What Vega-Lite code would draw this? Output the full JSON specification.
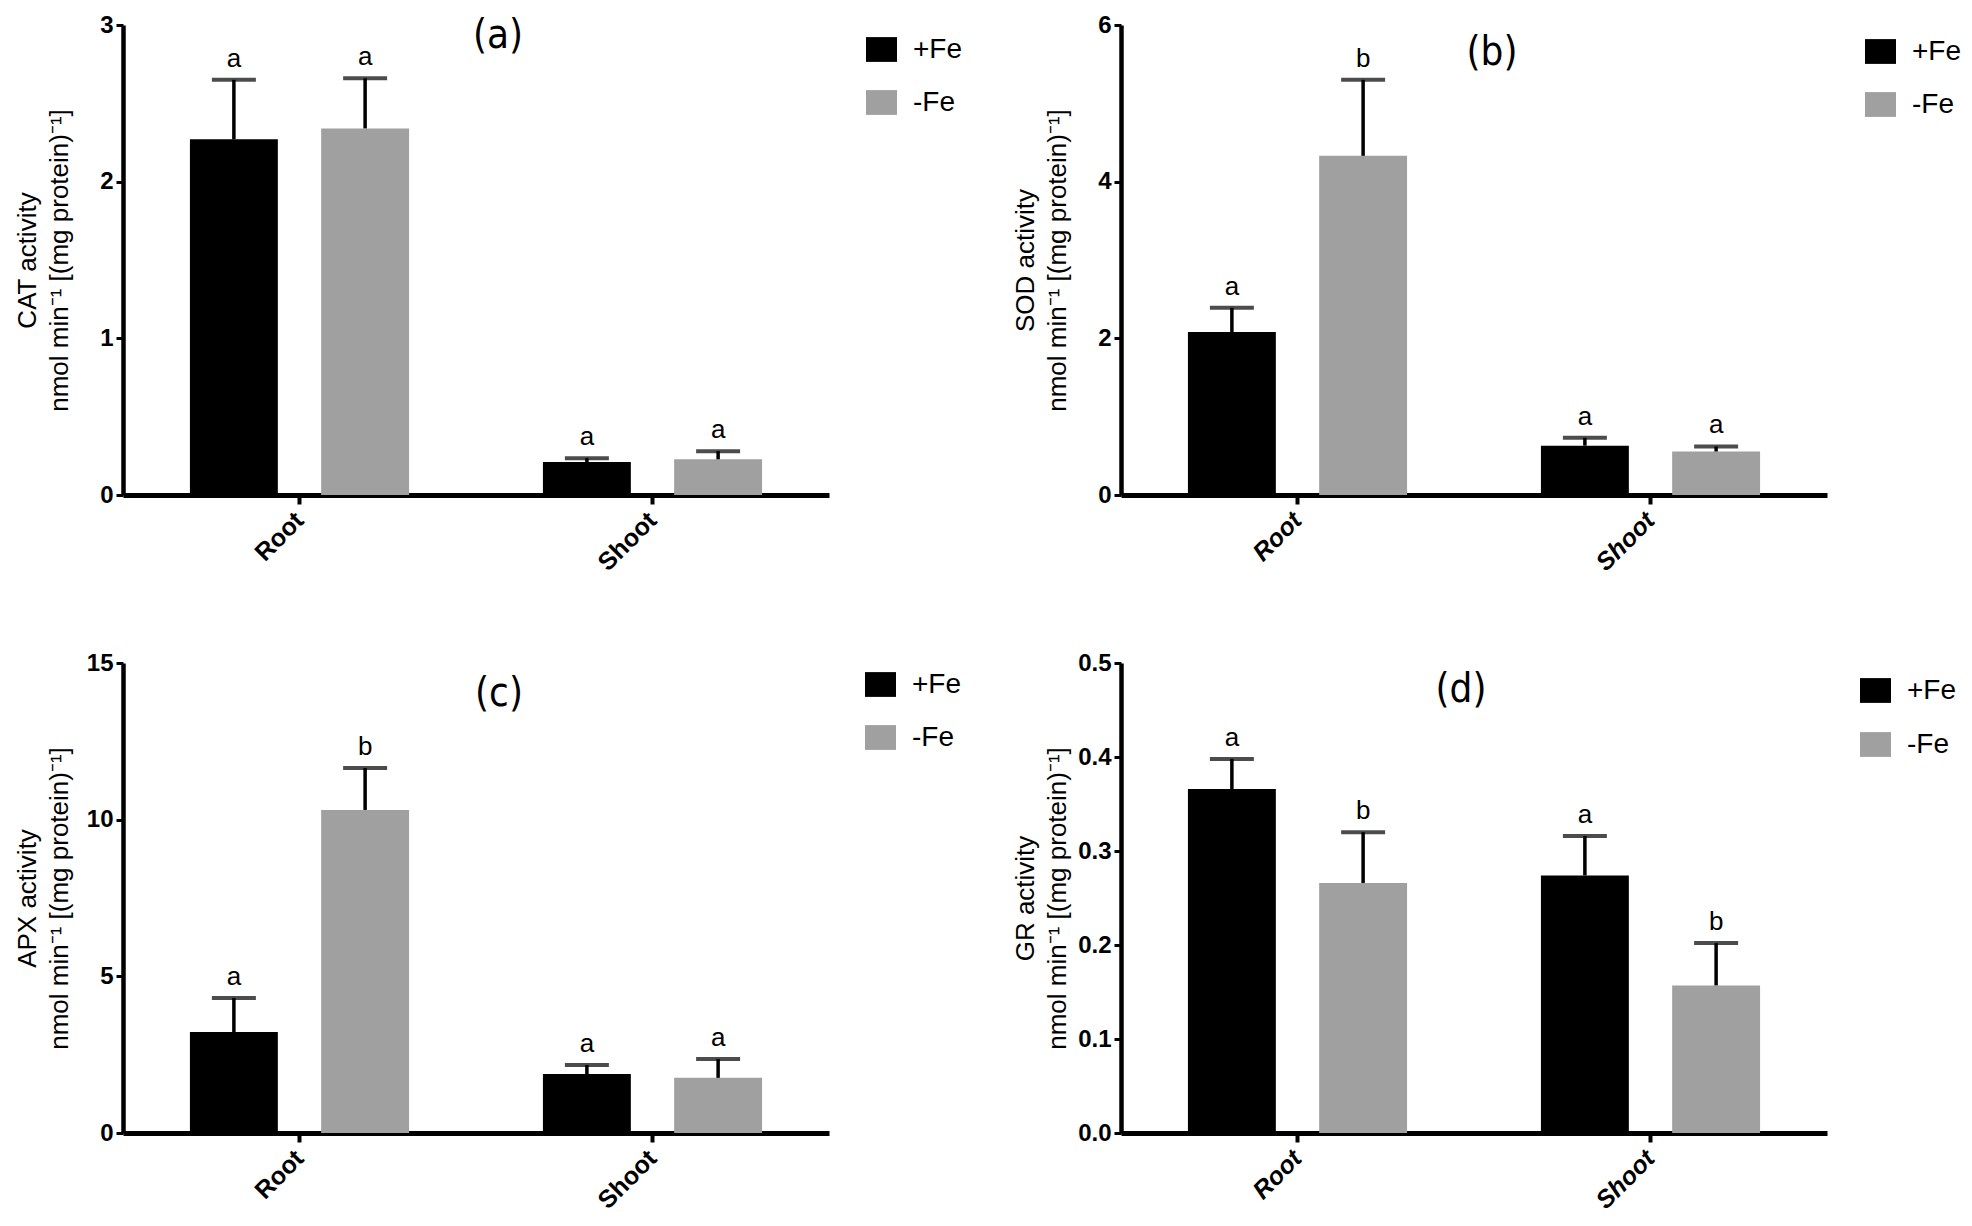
{
  "$schema": "https://vega.github.io/schema/vega-lite/v6.json",
  "background": "white",
  "padding": {"left": 13, "top": 13, "right": 10, "bottom": 10},
  "bounds": "flush",
  "columns": 2,
  "spacing": {"row": 168, "column": 292},
  "data": {"values": [
    {"panel": "a", "tissue": "Root", "trt": "+Fe", "mean": 2.27, "upper": 2.65, "letter": "a"},
    {"panel": "a", "tissue": "Root", "trt": "-Fe", "mean": 2.34, "upper": 2.66, "letter": "a"},
    {"panel": "a", "tissue": "Shoot", "trt": "+Fe", "mean": 0.21, "upper": 0.235, "letter": "a"},
    {"panel": "a", "tissue": "Shoot", "trt": "-Fe", "mean": 0.228, "upper": 0.28, "letter": "a"},
    {"panel": "b", "tissue": "Root", "trt": "+Fe", "mean": 2.08, "upper": 2.39, "letter": "a"},
    {"panel": "b", "tissue": "Root", "trt": "-Fe", "mean": 4.33, "upper": 5.3, "letter": "b"},
    {"panel": "b", "tissue": "Shoot", "trt": "+Fe", "mean": 0.63, "upper": 0.73, "letter": "a"},
    {"panel": "b", "tissue": "Shoot", "trt": "-Fe", "mean": 0.555, "upper": 0.62, "letter": "a"},
    {"panel": "c", "tissue": "Root", "trt": "+Fe", "mean": 3.22, "upper": 4.31, "letter": "a"},
    {"panel": "c", "tissue": "Root", "trt": "-Fe", "mean": 10.31, "upper": 11.65, "letter": "b"},
    {"panel": "c", "tissue": "Shoot", "trt": "+Fe", "mean": 1.88, "upper": 2.17, "letter": "a"},
    {"panel": "c", "tissue": "Shoot", "trt": "-Fe", "mean": 1.76, "upper": 2.36, "letter": "a"},
    {"panel": "d", "tissue": "Root", "trt": "+Fe", "mean": 0.366, "upper": 0.398, "letter": "a"},
    {"panel": "d", "tissue": "Root", "trt": "-Fe", "mean": 0.266, "upper": 0.32, "letter": "b"},
    {"panel": "d", "tissue": "Shoot", "trt": "+Fe", "mean": 0.274, "upper": 0.316, "letter": "a"},
    {"panel": "d", "tissue": "Shoot", "trt": "-Fe", "mean": 0.157, "upper": 0.202, "letter": "b"}
  ]},
  "config": {
    "view": {"stroke": null},
    "font": "Liberation Sans",
    "title": {"fontSize": 40, "fontWeight": "normal", "font": "Liberation Sans Narrow, DejaVu Sans Condensed, Liberation Sans", "color": "black", "anchor": "middle", "baseline": "top", "frame": "group"},
    "axis": {"grid": false, "domainColor": "black", "tickColor": "black", "labelColor": "black", "titleColor": "black", "labelFont": "Liberation Sans", "labelFontWeight": "bold", "labelFontSize": 24, "zindex": 1},
    "axisY": {"tickSize": 7, "tickWidth": 3, "labelPadding": 3, "domainWidth": 4.5, "labelFlush": false, "titleFontSize": 26, "titleFontWeight": "normal", "titleFont": "Liberation Sans", "titleX": -83, "titleY": 235, "titleBaseline": "bottom", "titleAngle": -90, "titleAlign": "center", "titleLineHeight": 32},
    "axisX": {"labelAngle": -45, "labelAlign": "right", "labelBaseline": "middle", "labelFontSize": 25, "tickSize": 9, "tickWidth": 4, "domainWidth": 5, "labelPadding": 12, "title": null},
    "legend": {"orient": "none", "legendX": 741, "legendY": 8, "title": null, "padding": 0, "labelFontSize": 28, "labelFont": "Liberation Sans", "labelColor": "black", "symbolType": "M-1,-0.8H1V0.8H-1Z", "symbolSize": 961, "symbolStrokeWidth": 0, "symbolOpacity": 1, "rowPadding": 23, "labelOffset": 16},
    "text": {"fontSize": 26, "color": "black", "font": "Liberation Sans"}
  },
  "concat": [
    {
      "width": 706, "height": 470,
      "title": {"text": "(a)", "dx": 22, "offset": -43},
      "transform": [{"filter": "datum.panel === 'a'"}],
      "encoding": {
        "x": {"field": "tissue", "type": "nominal", "sort": ["Root", "Shoot"], "scale": {"paddingInner": 0, "paddingOuter": 0}, "axis": {"title": null}},
        "xOffset": {"field": "trt", "type": "nominal", "sort": ["+Fe", "-Fe"], "scale": {"paddingInner": 0.33, "paddingOuter": 0.51}}
      },
      "layer": [
        {"mark": {"type": "bar"}, "encoding": {
          "y": {"field": "mean", "type": "quantitative", "title": ["CAT activity", "nmol min⁻¹ [(mg protein)⁻¹]"], "scale": {"domain": [0, 3], "nice": false}, "axis": {"values": [0, 1, 2, 3], "format": "d", "titleFontSize": 26}},
          "color": {"field": "trt", "type": "nominal", "sort": ["+Fe", "-Fe"], "scale": {"domain": ["+Fe", "-Fe"], "range": ["#000000", "#a0a0a0"]}, "legend": {"legendX": 743, "legendY": 9}}}},
        {"mark": {"type": "rule", "strokeWidth": 3.5, "color": "black"}, "encoding": {"y": {"field": "mean", "type": "quantitative", "title": ["CAT activity", "nmol min⁻¹ [(mg protein)⁻¹]"]}, "y2": {"field": "upper"}}},
        {"mark": {"type": "tick", "thickness": 4, "size": 44, "color": "black"}, "encoding": {"y": {"field": "upper", "type": "quantitative", "title": ["CAT activity", "nmol min⁻¹ [(mg protein)⁻¹]"]}}},
        {"mark": {"type": "text", "baseline": "alphabetic", "dy": -13}, "encoding": {"y": {"field": "upper", "type": "quantitative", "title": ["CAT activity", "nmol min⁻¹ [(mg protein)⁻¹]"]}, "text": {"field": "letter"}}}
      ]
    },
    {
      "width": 706, "height": 470,
      "title": {"text": "(b)", "dx": 18, "offset": -60},
      "transform": [{"filter": "datum.panel === 'b'"}],
      "encoding": {
        "x": {"field": "tissue", "type": "nominal", "sort": ["Root", "Shoot"], "scale": {"paddingInner": 0, "paddingOuter": 0}, "axis": {"title": null, "labelFontStyle": "italic"}},
        "xOffset": {"field": "trt", "type": "nominal", "sort": ["+Fe", "-Fe"], "scale": {"paddingInner": 0.33, "paddingOuter": 0.51}}
      },
      "layer": [
        {"mark": {"type": "bar"}, "encoding": {
          "y": {"field": "mean", "type": "quantitative", "title": ["SOD activity", "nmol min⁻¹ [(mg protein)⁻¹]"], "scale": {"domain": [0, 6], "nice": false}, "axis": {"values": [0, 2, 4, 6], "format": "d", "titleFontSize": 26}},
          "color": {"field": "trt", "type": "nominal", "sort": ["+Fe", "-Fe"], "scale": {"domain": ["+Fe", "-Fe"], "range": ["#000000", "#a0a0a0"]}, "legend": {"legendX": 744, "legendY": 11}}}},
        {"mark": {"type": "rule", "strokeWidth": 3.5, "color": "black"}, "encoding": {"y": {"field": "mean", "type": "quantitative", "title": ["SOD activity", "nmol min⁻¹ [(mg protein)⁻¹]"]}, "y2": {"field": "upper"}}},
        {"mark": {"type": "tick", "thickness": 4, "size": 44, "color": "black"}, "encoding": {"y": {"field": "upper", "type": "quantitative", "title": ["SOD activity", "nmol min⁻¹ [(mg protein)⁻¹]"]}}},
        {"mark": {"type": "text", "baseline": "alphabetic", "dy": -13}, "encoding": {"y": {"field": "upper", "type": "quantitative", "title": ["SOD activity", "nmol min⁻¹ [(mg protein)⁻¹]"]}, "text": {"field": "letter"}}}
      ]
    },
    {
      "width": 706, "height": 470,
      "title": {"text": "(c)", "dx": 23, "offset": -63},
      "transform": [{"filter": "datum.panel === 'c'"}],
      "encoding": {
        "x": {"field": "tissue", "type": "nominal", "sort": ["Root", "Shoot"], "scale": {"paddingInner": 0, "paddingOuter": 0}, "axis": {"title": null}},
        "xOffset": {"field": "trt", "type": "nominal", "sort": ["+Fe", "-Fe"], "scale": {"paddingInner": 0.33, "paddingOuter": 0.51}}
      },
      "layer": [
        {"mark": {"type": "bar"}, "encoding": {
          "y": {"field": "mean", "type": "quantitative", "title": ["APX activity", "nmol min⁻¹ [(mg protein)⁻¹]"], "scale": {"domain": [0, 15], "nice": false}, "axis": {"values": [0, 5, 10, 15], "format": "d", "titleFontSize": 26}},
          "color": {"field": "trt", "type": "nominal", "sort": ["+Fe", "-Fe"], "scale": {"domain": ["+Fe", "-Fe"], "range": ["#000000", "#a0a0a0"]}, "legend": {"legendX": 742, "legendY": 6, "rowPadding": 23}}}},
        {"mark": {"type": "rule", "strokeWidth": 3.5, "color": "black"}, "encoding": {"y": {"field": "mean", "type": "quantitative", "title": ["APX activity", "nmol min⁻¹ [(mg protein)⁻¹]"]}, "y2": {"field": "upper"}}},
        {"mark": {"type": "tick", "thickness": 4, "size": 44, "color": "black"}, "encoding": {"y": {"field": "upper", "type": "quantitative", "title": ["APX activity", "nmol min⁻¹ [(mg protein)⁻¹]"]}}},
        {"mark": {"type": "text", "baseline": "alphabetic", "dy": -13}, "encoding": {"y": {"field": "upper", "type": "quantitative", "title": ["APX activity", "nmol min⁻¹ [(mg protein)⁻¹]"]}, "text": {"field": "letter"}}}
      ]
    },
    {
      "width": 706, "height": 470,
      "title": {"text": "(d)", "dx": -13, "offset": -59},
      "transform": [{"filter": "datum.panel === 'd'"}],
      "encoding": {
        "x": {"field": "tissue", "type": "nominal", "sort": ["Root", "Shoot"], "scale": {"paddingInner": 0, "paddingOuter": 0}, "axis": {"title": null, "labelFontStyle": "italic"}},
        "xOffset": {"field": "trt", "type": "nominal", "sort": ["+Fe", "-Fe"], "scale": {"paddingInner": 0.33, "paddingOuter": 0.51}}
      },
      "layer": [
        {"mark": {"type": "bar"}, "encoding": {
          "y": {"field": "mean", "type": "quantitative", "title": ["GR activity", "nmol min⁻¹ [(mg protein)⁻¹]"], "scale": {"domain": [0, 0.5], "nice": false}, "axis": {"values": [0, 0.1, 0.2, 0.3, 0.4, 0.5], "format": ".1f", "titleFontSize": 26}},
          "color": {"field": "trt", "type": "nominal", "sort": ["+Fe", "-Fe"], "scale": {"domain": ["+Fe", "-Fe"], "range": ["#000000", "#a0a0a0"]}, "legend": {"legendX": 739, "legendY": 12, "rowPadding": 24}}}},
        {"mark": {"type": "rule", "strokeWidth": 3.5, "color": "black"}, "encoding": {"y": {"field": "mean", "type": "quantitative", "title": ["GR activity", "nmol min⁻¹ [(mg protein)⁻¹]"]}, "y2": {"field": "upper"}}},
        {"mark": {"type": "tick", "thickness": 4, "size": 44, "color": "black"}, "encoding": {"y": {"field": "upper", "type": "quantitative", "title": ["GR activity", "nmol min⁻¹ [(mg protein)⁻¹]"]}}},
        {"mark": {"type": "text", "baseline": "alphabetic", "dy": -13}, "encoding": {"y": {"field": "upper", "type": "quantitative", "title": ["GR activity", "nmol min⁻¹ [(mg protein)⁻¹]"]}, "text": {"field": "letter"}}}
      ]
    }
  ],
  "resolve": {"scale": {"color": "independent"}, "legend": {"color": "independent"}}
}
